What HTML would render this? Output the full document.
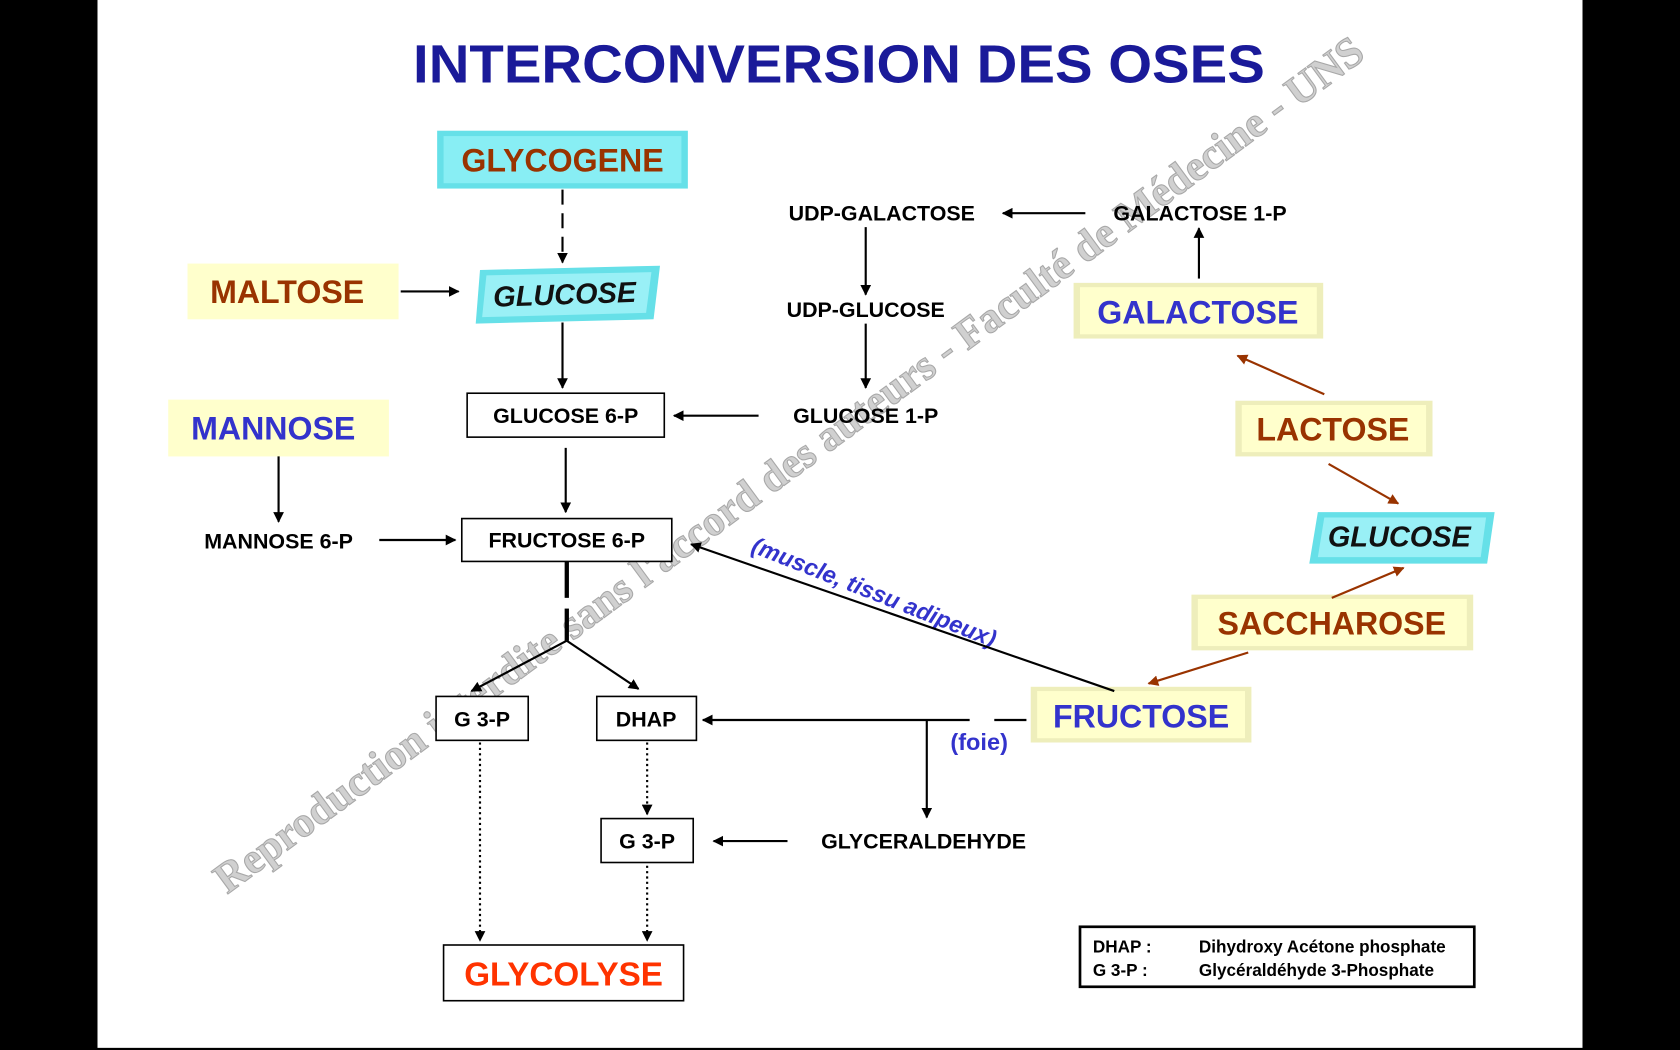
<!DOCTYPE html>
<html><head><meta charset="utf-8"><style>
html,body{margin:0;padding:0;background:#000;width:1680px;height:1050px;overflow:hidden}
svg{display:block}
text{font-family:"Liberation Sans",Arial,sans-serif;font-weight:bold}
</style></head><body>
<svg width="1680" height="1050" viewBox="0 0 1568 980" preserveAspectRatio="none" xmlns="http://www.w3.org/2000/svg">
<defs>
<marker id="a" markerWidth="10" markerHeight="10" refX="9" refY="5" orient="auto" markerUnits="userSpaceOnUse"><path d="M0,0 L10,5 L0,10 z" fill="#000"/></marker>
<marker id="r" markerWidth="10" markerHeight="10" refX="9" refY="5" orient="auto" markerUnits="userSpaceOnUse"><path d="M0,0 L10,5 L0,10 z" fill="#993300"/></marker>
</defs>
<rect x="0" y="0" width="1568" height="980" fill="#000"/>
<rect x="91" y="0" width="1386" height="978" fill="#fff"/>

<!-- watermark -->
<text x="0" y="0" transform="translate(212,835) rotate(-36.3)" font-family="Liberation Serif,serif" font-size="40" fill="#d0d0d0" stroke="#a8a8a8" stroke-width="1" textLength="1320" lengthAdjust="spacingAndGlyphs" style="font-family:'Liberation Serif',serif">Reproduction interdite sans l'accord des auteurs - Faculté de Médecine - UNS</text>

<text x="783" y="77" font-size="50" fill="#1a1a99" text-anchor="middle" textLength="795" lengthAdjust="spacingAndGlyphs">INTERCONVERSION DES OSES</text>

<!-- colored boxes -->
<rect x="408" y="122" width="234" height="54" fill="#66e0e8"/>
<rect x="414" y="127" width="222" height="44" fill="#88eef4"/>
<text x="525" y="160" font-size="30" fill="#993300" text-anchor="middle">GLYCOGENE</text>

<polygon points="448,252 616,248 610,298 444,302" fill="#66e0e8"/>
<polygon points="454,257 608,254 603,292 450,296" fill="#99f0f6"/>
<text x="527" y="284" font-size="27" font-style="italic" fill="#111" text-anchor="middle" transform="rotate(-2 527 276)">GLUCOSE</text>

<rect x="175" y="246" width="197" height="52" fill="#ffffcc"/>
<text x="268" y="283" font-size="30" fill="#993300" text-anchor="middle">MALTOSE</text>

<rect x="157" y="373" width="206" height="53" fill="#ffffcc"/>
<text x="255" y="410" font-size="30" fill="#3333cc" text-anchor="middle">MANNOSE</text>

<rect x="1002" y="264" width="233" height="52" fill="#eeeebb"/>
<rect x="1008" y="268" width="221" height="44" fill="#ffffcc"/>
<text x="1118" y="302" font-size="30" fill="#3333cc" text-anchor="middle">GALACTOSE</text>

<rect x="1153" y="374" width="184" height="52" fill="#eeeebb"/>
<rect x="1159" y="378" width="172" height="44" fill="#ffffcc"/>
<text x="1244" y="411" font-size="30" fill="#993300" text-anchor="middle">LACTOSE</text>

<polygon points="1230,478 1395,478 1388,526 1222,526" fill="#66e0e8"/>
<polygon points="1236,483 1387,483 1382,520 1230,520" fill="#99f0f6"/>
<text x="1306" y="510" font-size="27" font-style="italic" fill="#111" text-anchor="middle">GLUCOSE</text>

<rect x="1112" y="555" width="263" height="52" fill="#eeeebb"/>
<rect x="1118" y="559" width="251" height="44" fill="#ffffcc"/>
<text x="1243" y="592" font-size="30" fill="#993300" text-anchor="middle">SACCHAROSE</text>

<rect x="962" y="641" width="206" height="52" fill="#eeeebb"/>
<rect x="968" y="645" width="194" height="44" fill="#ffffcc"/>
<text x="1065" y="679" font-size="30" fill="#3333cc" text-anchor="middle">FRUCTOSE</text>

<!-- white boxes -->
<g fill="#fff" stroke="#000" stroke-width="1.5">
<rect x="436" y="367" width="184" height="41"/>
<rect x="431" y="484" width="196" height="40"/>
<rect x="407" y="650" width="86" height="41"/>
<rect x="557" y="650" width="93" height="41"/>
<rect x="561" y="764" width="86" height="41"/>
<rect x="414" y="882" width="224" height="52"/>
</g>
<rect x="1008" y="865" width="368" height="56" fill="#fff" stroke="#000" stroke-width="2.5"/>

<g font-size="20" fill="#000">
<text x="528" y="395" text-anchor="middle">GLUCOSE 6-P</text>
<text x="529" y="511" text-anchor="middle">FRUCTOSE 6-P</text>
<text x="450" y="678" text-anchor="middle">G 3-P</text>
<text x="603" y="678" text-anchor="middle">DHAP</text>
<text x="604" y="792" text-anchor="middle">G 3-P</text>
<text x="260" y="512" text-anchor="middle">MANNOSE 6-P</text>
<text x="823" y="206" text-anchor="middle">UDP-GALACTOSE</text>
<text x="1120" y="206" text-anchor="middle">GALACTOSE 1-P</text>
<text x="808" y="296" text-anchor="middle">UDP-GLUCOSE</text>
<text x="808" y="395" text-anchor="middle">GLUCOSE 1-P</text>
<text x="862" y="792" text-anchor="middle">GLYCERALDEHYDE</text>
</g>
<text x="526" y="920" font-size="31" fill="#ff3300" text-anchor="middle">GLYCOLYSE</text>

<g font-size="16" fill="#000">
<text x="1020" y="889">DHAP  :</text>
<text x="1119" y="889">Dihydroxy Acétone phosphate</text>
<text x="1020" y="911">G 3-P  :</text>
<text x="1119" y="911">Glycéraldéhyde 3-Phosphate</text>
</g>

<text x="0" y="0" transform="translate(700,515) rotate(21.5)" font-size="22" fill="#3333cc" font-style="italic">(muscle, tissu adipeux)</text>
<text x="887" y="700" font-size="22" fill="#3333cc">(foie)</text>

<!-- arrows -->
<g stroke="#000" stroke-width="2" fill="none" marker-end="url(#a)">
<line x1="525" y1="177" x2="525" y2="245" stroke-dasharray="14,8"/>
<line x1="374" y1="272" x2="428" y2="272"/>
<line x1="525" y1="301" x2="525" y2="362"/>
<line x1="708" y1="388" x2="629" y2="388"/>
<line x1="528" y1="418" x2="528" y2="478"/>
<line x1="260" y1="426" x2="260" y2="487"/>
<line x1="354" y1="504" x2="425" y2="504"/>
<line x1="1013" y1="199" x2="936" y2="199"/>
<line x1="808" y1="212" x2="808" y2="275"/>
<line x1="808" y1="302" x2="808" y2="362"/>
<line x1="1119" y1="260" x2="1119" y2="213"/>
<line x1="1040" y1="645" x2="645" y2="508"/>
<line x1="905" y1="672" x2="656" y2="672"/>
<line x1="865" y1="672" x2="865" y2="763" marker-end="url(#a)"/>
<line x1="735" y1="785" x2="666" y2="785"/>
<line x1="529" y1="598" x2="440" y2="645"/>
<line x1="529" y1="598" x2="596" y2="643"/>
<line x1="448" y1="693" x2="448" y2="878" stroke-dasharray="2,3"/>
<line x1="604" y1="693" x2="604" y2="760" stroke-dasharray="2,3"/>
<line x1="604" y1="808" x2="604" y2="878" stroke-dasharray="2,3"/>
</g>
<line x1="529" y1="524" x2="529" y2="558" stroke="#000" stroke-width="4"/>
<line x1="529" y1="568" x2="529" y2="598" stroke="#000" stroke-width="4"/>
<line x1="958" y1="672" x2="928" y2="672" stroke="#000" stroke-width="2"/>
<g stroke="#993300" stroke-width="2" fill="none" marker-end="url(#r)">
<line x1="1236" y1="368" x2="1155" y2="332"/>
<line x1="1240" y1="433" x2="1305" y2="470"/>
<line x1="1243" y1="558" x2="1310" y2="530"/>
<line x1="1165" y1="609" x2="1072" y2="638"/>
</g>
</svg>
</body></html>
